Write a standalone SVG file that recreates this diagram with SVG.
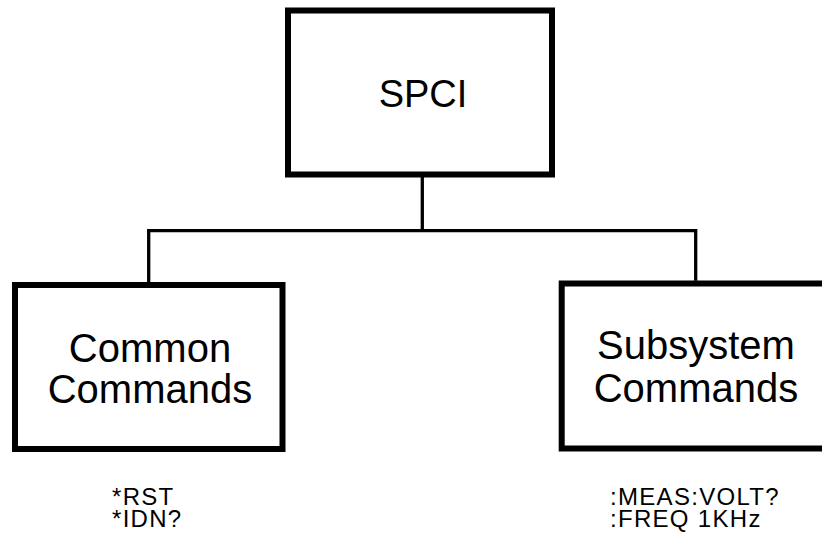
<svg xmlns="http://www.w3.org/2000/svg" width="822" height="537" viewBox="0 0 822 537">
<style>
.box{fill:#fff;stroke:#000;stroke-width:6}
.lbl{font-family:"Liberation Sans",Arial,sans-serif;font-size:40px;fill:#000;text-anchor:middle}
.cmd{font-family:"Liberation Sans",Arial,sans-serif;font-size:24px;fill:#000;letter-spacing:1.3px}
.conn{fill:none;stroke:#000;stroke-width:3.3}
</style>
<rect width="822" height="537" fill="#fff"/>
<g id="connectors">
<path class="conn" d="M422.3,177 V230.7"/>
<path class="conn" d="M148.7,282 V230.7 H695.7 V280.7"/>
</g>
<g id="spci">
<rect class="box" x="288" y="10.5" width="264" height="164"/>
<text class="lbl" x="423" y="107" style="font-size:38px">SPCI</text>
</g>
<g id="common">
<rect class="box" x="15" y="285" width="267.5" height="164"/>
<text class="lbl" x="150" y="361.7">Common</text>
<text class="lbl" x="150" y="402.7">Commands</text>
</g>
<g id="subsystem">
<rect class="box" x="561.7" y="283.5" width="267.5" height="165"/>
<text class="lbl" x="696" y="359">Subsystem</text>
<text class="lbl" x="696" y="401.5">Commands</text>
</g>
<g id="common-examples">
<text class="cmd" x="112" y="504.5">*RST</text>
<text class="cmd" x="112" y="526.5">*IDN?</text>
</g>
<g id="subsystem-examples">
<text class="cmd" x="610" y="504.5">:MEAS:VOLT?</text>
<text class="cmd" x="610" y="526.5">:FREQ 1KHz</text>
</g>
</svg>
